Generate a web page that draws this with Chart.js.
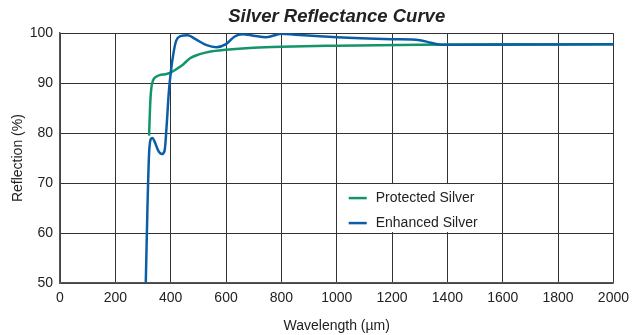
<!DOCTYPE html>
<html>
<head>
<meta charset="utf-8">
<script src="https://cdn.jsdelivr.net/npm/chart.js@4"></script>
<style>
  html, body { margin: 0; padding: 0; background: #fff; }
  #wrap { width: 636px; height: 335px; }
</style>
</head>
<body>
<div id="wrap"><canvas id="reflectChart" width="636" height="335"></canvas></div>
<script>
// wavelength / reflection values
var protectedX = [322, 326, 330, 336, 345, 360, 380, 400, 420, 444, 470, 505, 540, 600, 700, 800, 1000, 1300, 1600, 2000];
var protectedY = [79.5, 86, 89, 90.5, 91.2, 91.6, 91.8, 92.1, 92.8, 93.7, 95, 95.8, 96.3, 96.7, 97.1, 97.3, 97.5, 97.7, 97.8, 97.8];

var enhancedX = [310, 316, 322, 328, 334, 342, 355, 368, 378, 386, 393, 400, 410, 420, 435, 462, 490, 530, 565, 600, 630, 660, 700, 745, 800, 850, 1000, 1200, 1300, 1340, 1380, 1500, 2000];
var enhancedY = [50, 65, 76, 78.8, 79, 78.3, 76.5, 75.8, 76.5, 82, 88, 92, 96, 98.5, 99.4, 99.6, 98.8, 97.6, 97.2, 97.8, 99.3, 99.8, 99.5, 99.2, 99.9, 99.7, 99.2, 98.8, 98.6, 98.1, 97.7, 97.7, 97.8];

var seriesNames = ["Protected Silver", "Enhanced Silver"];
var seriesColors = ["#13956b", "#0a5ea8"];

function toPoints(xs, ys) {
  var pts = [];
  for (var i = 0; i < xs.length; i++) pts.push({ x: xs[i], y: ys[i] });
  return pts;
}

var fontFamily = "'Liberation Sans', Arial, Helvetica, sans-serif";

// legend drawn inside the plot, over the 1000-1600 / 60-70 cell
var insideLegend = {
  id: 'insideLegend',
  afterDatasetsDraw: function (chart) {
    var ctx = chart.ctx;
    var xs = chart.scales.x, ys = chart.scales.y;
    var left = xs.getPixelForValue(1000), right = xs.getPixelForValue(1600);
    var top = ys.getPixelForValue(70), bottom = ys.getPixelForValue(60);
    ctx.save();
    ctx.fillStyle = '#fff';
    ctx.fillRect(left + 1, top + 1, right - left - 2, bottom - top - 2);
    ctx.font = '14px ' + fontFamily;
    ctx.textBaseline = 'middle';
    for (var i = 0; i < seriesNames.length; i++) {
      var y = top + 15 + i * 25;
      ctx.strokeStyle = seriesColors[i];
      ctx.lineWidth = 2.5;
      ctx.beginPath();
      ctx.moveTo(left + 12, y);
      ctx.lineTo(left + 30, y);
      ctx.stroke();
      ctx.fillStyle = '#222';
      ctx.fillText(seriesNames[i], left + 39, y);
    }
    ctx.restore();
  }
};

var chart = new Chart(document.getElementById('reflectChart'), {
  type: 'line',
  data: {
    datasets: [
      {
        label: seriesNames[0],
        data: toPoints(protectedX, protectedY),
        borderColor: seriesColors[0],
        borderWidth: 2.5,
        pointRadius: 0,
        cubicInterpolationMode: 'monotone',
        order: 1
      },
      {
        label: seriesNames[1],
        data: toPoints(enhancedX, enhancedY),
        borderColor: seriesColors[1],
        borderWidth: 2.5,
        pointRadius: 0,
        cubicInterpolationMode: 'monotone',
        order: 0
      }
    ]
  },
  options: {
    responsive: false,
    animation: false,
    layout: { padding: { left: 0, right: 21, top: 0, bottom: 0 } },
    plugins: {
      legend: { display: false },
      tooltip: { enabled: false },
      title: {
        display: true,
        fullSize: false,
        text: 'Silver Reflectance Curve',
        color: '#222',
        font: { family: fontFamily, size: 18.5, weight: 'bold', style: 'italic' },
        padding: { top: 6, bottom: 5 }
      }
    },
    scales: {
      x: {
        type: 'linear',
        min: 0,
        max: 2000,
        afterFit: function (scale) { scale.height = 52; },
        ticks: { stepSize: 200, color: '#222', padding: 7, maxRotation: 0,
                 callback: function (v) { return String(v); },
                 font: { family: fontFamily, size: 14 } },
        grid: { color: '#333', lineWidth: 1, drawTicks: false },
        border: { color: '#555', width: 1.5 },
        title: { display: true, text: 'Wavelength (µm)', color: '#222', padding: { top: 3, bottom: 0 },
                 font: { family: fontFamily, size: 14 } }
      },
      y: {
        min: 50,
        max: 100,
        afterFit: function (scale) { scale.width = 60; },
        ticks: { stepSize: 10, color: '#222', padding: 7,
                 font: { family: fontFamily, size: 14 } },
        grid: { color: '#333', lineWidth: 1, drawTicks: false },
        border: { color: '#555', width: 1.5 },
        title: { display: true, text: 'Reflection (%)', color: '#222', padding: { top: 10, bottom: 4 },
                 font: { family: fontFamily, size: 14 } }
      }
    }
  },
  plugins: [insideLegend]
});
</script>
</body>
</html>
